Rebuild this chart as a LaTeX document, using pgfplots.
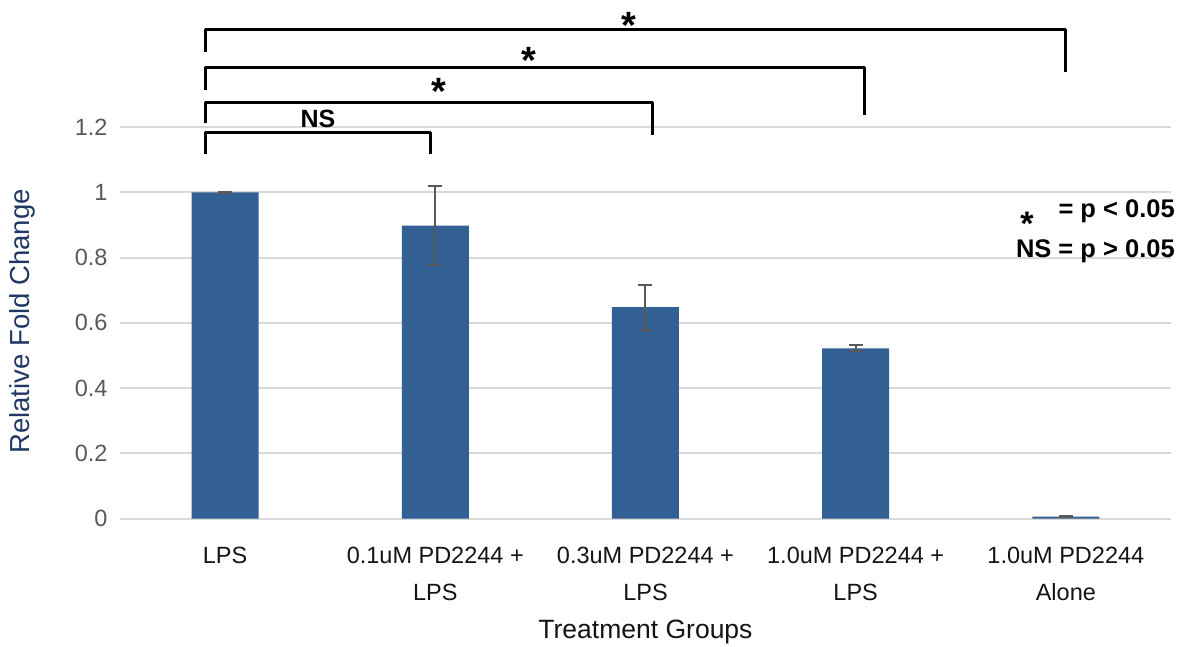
\documentclass[border=0pt]{standalone}
\usepackage{fontspec}
\setmainfont{Liberation Sans}
\usepackage{pgfplots}
\pgfplotsset{compat=1.18}
\definecolor{barblue}{RGB}{50,95,148}
\definecolor{errgray}{RGB}{89,89,89}
\definecolor{gridgray}{RGB}{217,217,217}
\definecolor{labelblue}{RGB}{32,56,100}
\definecolor{tickgray}{RGB}{89,89,89}
\definecolor{catblack}{RGB}{20,20,20}
\newcommand{\sigast}{\raisebox{0pt}[\height][-0.38em]{*}}
\begin{document}
\begin{tikzpicture}
\useasboundingbox (-120pt,-128.3pt) rectangle (1063pt,518.7pt);
\begin{axis}[
  at={(0pt,0pt)}, anchor=south west,
  width=1051pt, height=391.7pt, scale only axis,
  xmin=-0.5, xmax=4.5, ymin=0, ymax=1.2,
  enlargelimits=false,
  clip=false,
  axis line style={draw=none},
  major tick style={draw=none},
  ymajorgrids,
  grid style={gridgray, line width=2pt},
  ytick={0,0.2,0.4,0.6,0.8,1,1.2},
  /pgf/number format/assume math mode=true,
  yticklabel style={font=\fontsize{23.5}{23.5}\selectfont, color=tickgray, anchor=east, xshift=-9pt},
  xtick={0,1,2,3,4},
  xticklabels={LPS,{0.1uM PD2244 +\\LPS},{0.3uM PD2244 +\\LPS},{1.0uM PD2244 +\\LPS},{1.0uM PD2244\\Alone}},
  xticklabel style={font=\fontsize{23.5}{36.6}\selectfont, color=catblack, align=center, anchor=north, inner sep=0pt, yshift=-28.3pt},
  xlabel={Treatment Groups},
  xlabel style={font=\fontsize{26.5}{26.5}\selectfont, color=catblack, at={(axis description cs:0.5,0)}, anchor=base, yshift=-119.3pt},
  ylabel={Relative Fold Change},
  ylabel style={font=\fontsize{27.5}{27.5}\selectfont, color=labelblue, at={(axis description cs:-0.0932,0.5034)}, anchor=center},
]
\addplot[ybar, bar width=67pt, fill=barblue, draw=none,
  error bars/.cd, y dir=both, y explicit,
  error bar style={line width=2pt, errgray},
  error mark options={rotate=90, mark size=7pt, line width=2pt, errgray}]
  coordinates {
  (0,1.000) +- (0,0.002)
  (1,0.898) +- (0,0.121)
  (2,0.648) +- (0,0.069)
  (3,0.522) +- (0,0.009)
  (4,0.006) +- (0,0.002)
  };
% significance brackets
\draw[line width=3pt, line join=round] (axis cs:-0.095,1.117) -- (axis cs:-0.095,1.183) -- (axis cs:0.975,1.183) -- (axis cs:0.975,1.117);
\draw[line width=3pt, line join=round] (axis cs:-0.095,1.212) -- (axis cs:-0.095,1.2745) -- (axis cs:2.035,1.2745) -- (axis cs:2.035,1.1755);
\draw[line width=3pt, line join=round] (axis cs:-0.095,1.313) -- (axis cs:-0.095,1.383) -- (axis cs:3.044,1.383) -- (axis cs:3.044,1.237);
\draw[line width=3pt, line join=round] (axis cs:-0.095,1.431) -- (axis cs:-0.095,1.500) -- (axis cs:3.999,1.500) -- (axis cs:3.999,1.368);
\node[font=\bfseries\fontsize{25}{25}\selectfont, anchor=center, inner sep=0pt] at (axis cs:0.442,1.225) {NS};
\node[font=\bfseries\fontsize{38}{38}\selectfont, anchor=north, inner sep=0pt] at (axis cs:1.016,1.350) {\sigast};
\node[font=\bfseries\fontsize{38}{38}\selectfont, anchor=north, inner sep=0pt] at (axis cs:1.444,1.445) {\sigast};
\node[font=\bfseries\fontsize{38}{38}\selectfont, anchor=north, inner sep=0pt] at (axis cs:1.919,1.552) {\sigast};
% key
\node[font=\bfseries\fontsize{34}{34}\selectfont, anchor=north, inner sep=0pt] at (axis cs:3.815,0.9397) {\sigast};
\node[font=\bfseries\fontsize{25.5}{25.5}\selectfont, anchor=base east, inner sep=0pt] at (axis cs:4.519,0.924) {= p < 0.05};
\node[font=\bfseries\fontsize{25.5}{25.5}\selectfont, anchor=base east, inner sep=0pt] at (axis cs:4.519,0.799) {NS = p > 0.05};
\end{axis}
\end{tikzpicture}
\end{document}
